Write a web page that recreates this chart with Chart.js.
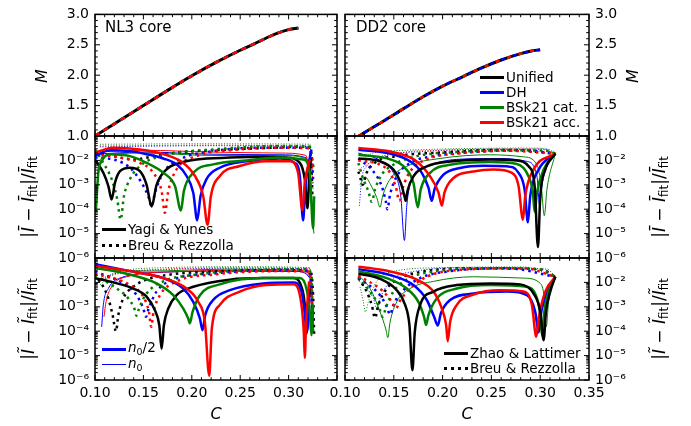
<!DOCTYPE html>
<html>
<head>
<meta charset="utf-8">
<script src="https://cdn.jsdelivr.net/npm/chart.js@4.4.1/dist/chart.umd.min.js"></script>
<style>
  body { margin: 0; background: #fff; font-family: 'DejaVu Sans', sans-serif; }
  #fig { position: relative; width: 691px; height: 426px; overflow: hidden; }
  #fig canvas { position: absolute; left: 0; top: 0; }
  .txt { position: absolute; white-space: nowrap; color: #000; line-height: 1; }
  .rot { transform: translate(-50%, -50%) rotate(-90deg); }
  .ctr { transform: translate(-50%, -50%); }
  .lbl { font-size: 16px; }
  .big { font-size: 17px; }
  .lbl sub, .leg sub { font-size: 70%; vertical-align: -0.3em; font-style: normal; }
  .core { font-size: 15px; transform: translateY(-50%); }
  .leg { font-size: 13.5px; transform: translateY(-50%); }
  .smp { position: absolute; }
</style>
</head>
<body>
<div id="fig">
  <canvas id="tl" width="691" height="426"></canvas>
  <canvas id="tr" width="691" height="426"></canvas>
  <canvas id="ml" width="691" height="426"></canvas>
  <canvas id="mr" width="691" height="426"></canvas>
  <canvas id="bl" width="691" height="426"></canvas>
  <canvas id="br" width="691" height="426"></canvas>

  <div class="txt lbl rot" style="left:42px;top:76px"><i>M</i></div>
  <div class="txt lbl rot" style="left:633px;top:76px"><i>M</i></div>
  <div class="txt lbl big rot" style="left:30px;top:197px">|<i>I&#772;</i> − <i>I&#772;</i><sub>fit</sub>|/<i>I&#772;</i><sub>fit</sub></div>
  <div class="txt lbl big rot" style="left:661px;top:197px">|<i>I&#772;</i> − <i>I&#772;</i><sub>fit</sub>|/<i>I&#772;</i><sub>fit</sub></div>
  <div class="txt lbl big rot" style="left:30px;top:319px">|<i>I&#771;</i> − <i>I&#771;</i><sub>fit</sub>|/<i>I&#771;</i><sub>fit</sub></div>
  <div class="txt lbl big rot" style="left:661px;top:319px">|<i>I&#771;</i> − <i>I&#771;</i><sub>fit</sub>|/<i>I&#771;</i><sub>fit</sub></div>
  <div class="txt lbl ctr" style="left:216px;top:414px"><i>C</i></div>
  <div class="txt lbl ctr" style="left:467px;top:414px"><i>C</i></div>

  <div class="txt core" style="left:105px;top:27px">NL3 core</div>
  <div class="txt core" style="left:356px;top:27px">DD2 core</div>

  <!-- EOS legend, top right -->
  <div class="smp" style="left:480px;top:76px;width:24px;height:3px;background:#000"></div>
  <div class="txt leg" style="left:506px;top:78px">Unified</div>
  <div class="smp" style="left:480px;top:91px;width:24px;height:3px;background:#0000ff"></div>
  <div class="txt leg" style="left:506px;top:93px">DH</div>
  <div class="smp" style="left:480px;top:106px;width:24px;height:3px;background:#008000"></div>
  <div class="txt leg" style="left:506px;top:108px">BSk21 cat.</div>
  <div class="smp" style="left:480px;top:121px;width:24px;height:3px;background:#ff0000"></div>
  <div class="txt leg" style="left:506px;top:123px">BSk21 acc.</div>

  <!-- fit legend, middle left -->
  <div class="smp" style="left:102px;top:228px;width:24px;height:3px;background:#000"></div>
  <div class="txt leg" style="left:128px;top:230px">Yagi &amp; Yunes</div>
  <div class="smp" style="left:102px;top:244px;width:24px;height:3px;background:repeating-linear-gradient(90deg,#000 0 3px,transparent 3px 7px)"></div>
  <div class="txt leg" style="left:128px;top:246px">Breu &amp; Rezzolla</div>

  <!-- crust density legend, bottom left -->
  <div class="smp" style="left:102px;top:348px;width:24px;height:3px;background:#0000ff"></div>
  <div class="txt leg" style="left:128px;top:349px"><i>n</i><sub>0</sub>/2</div>
  <div class="smp" style="left:102px;top:364px;width:24px;height:1px;background:#0000ff"></div>
  <div class="txt leg" style="left:128px;top:365px"><i>n</i><sub>0</sub></div>

  <!-- fit legend, bottom right -->
  <div class="smp" style="left:444px;top:352px;width:24px;height:3px;background:#000"></div>
  <div class="txt leg" style="left:470px;top:354px">Zhao &amp; Lattimer</div>
  <div class="smp" style="left:444px;top:367px;width:24px;height:3px;background:repeating-linear-gradient(90deg,#000 0 3px,transparent 3px 7px)"></div>
  <div class="txt leg" style="left:470px;top:369px">Breu &amp; Rezzolla</div>
</div>

<script>
// ---- mass-compactness curves ----
const nl3C = [0.100, 0.125, 0.150, 0.175, 0.200, 0.225, 0.250, 0.265, 0.278, 0.290, 0.300, 0.310];
const nl3M = [1.00, 1.25, 1.50, 1.75, 1.99, 2.21, 2.41, 2.52, 2.62, 2.70, 2.75, 2.775];
const dd2C = [0.114, 0.140, 0.160, 0.180, 0.200, 0.220, 0.240, 0.260, 0.280, 0.290, 0.300];
const dd2M = [1.00, 1.25, 1.45, 1.645, 1.82, 1.97, 2.12, 2.25, 2.355, 2.395, 2.42];

// ---- NL3, |I_bar - fit| / fit : [C, error] ----
const nl3BarUniSolid = [[0.100,1.1e-2],[0.1086,3.1e-3],[0.1138,8.9e-4],[0.1172,2.5e-4],[0.1206,1.2e-3],[0.1258,3.6e-3],[0.1361,5.0e-3],[0.1464,3.6e-3],[0.1533,1.0e-3],[0.1585,1.3e-4],[0.1636,1.0e-3],[0.174,4.3e-3],[0.1877,7.9e-3],[0.205,1.1e-2],[0.2393,1.3e-2],[0.2737,1.4e-2],[0.2978,1.3e-2],[0.3116,7.9e-3],[0.3167,1.7e-3],[0.3195,1.1e-4],[0.3212,1.7e-3],[0.323,1.2e-2]];
const nl3BarDhSolid = [[0.100,1.5e-2],[0.1155,2.6e-2],[0.136,2.4e-2],[0.1533,1.8e-2],[0.1705,1.2e-2],[0.1843,6.9e-3],[0.1946,2.3e-3],[0.2015,4.7e-4],[0.2056,3.5e-5],[0.209,3.4e-4],[0.2152,1.7e-3],[0.229,5.0e-3],[0.2565,9.3e-3],[0.2909,1.2e-2],[0.3064,7.9e-3],[0.3116,2.3e-3],[0.315,3.5e-5],[0.3171,6.5e-4],[0.3191,3.1e-3],[0.3236,2.8e-2]];
const nl3BarCatSolid = [[0.101,9.8e-5],[0.1034,3.1e-3],[0.1069,9.3e-3],[0.1155,1.8e-2],[0.1361,1.5e-2],[0.1533,7.9e-3],[0.1705,3.1e-3],[0.1826,8.9e-4],[0.1888,8.9e-5],[0.1918,5.5e-4],[0.2015,3.1e-3],[0.2221,6.9e-3],[0.2565,1.0e-2],[0.2909,1.3e-2],[0.315,1.1e-2],[0.3219,3.1e-3],[0.3253,1.6e-5],[0.3264,3.4e-4]];
const nl3BarAccSolid = [[0.100,2.1e-2],[0.1189,3.3e-2],[0.1464,2.8e-2],[0.1705,1.8e-2],[0.1912,7.9e-3],[0.2032,2.3e-3],[0.2118,3.4e-4],[0.2163,2.3e-5],[0.2197,3.4e-4],[0.229,2.3e-3],[0.2496,5.9e-3],[0.2772,9.3e-3],[0.3012,9.3e-3],[0.3098,3.1e-3],[0.3143,9.1e-5],[0.3167,1.2e-3],[0.3219,1.1e-2]];
const nl3BarUniDot = [[0.100,2.1e-2],[0.1189,1.5e-2],[0.1396,1.1e-2],[0.1705,1.8e-2],[0.2049,2.4e-2],[0.2565,3.0e-2],[0.3184,3.6e-2],[0.3225,2.8e-2],[0.3246,3.4e-4]];
const nl3BarDhDot = [[0.100,1.3e-2],[0.1189,1.1e-2],[0.1361,5.0e-3],[0.1482,1.2e-3],[0.155,3.4e-4],[0.1585,1.3e-4],[0.1619,4.7e-4],[0.1705,3.1e-3],[0.1877,1.1e-2],[0.2221,2.4e-2],[0.2737,3.3e-2],[0.3184,3.3e-2],[0.3236,1.8e-2],[0.3253,1.7e-3]];
const nl3BarCatDot = [[0.100,2.8e-2],[0.1086,7.9e-3],[0.1172,1.7e-3],[0.123,2.5e-4],[0.1265,3.8e-5],[0.1299,3.4e-4],[0.1361,1.7e-3],[0.1464,5.9e-3],[0.1705,1.6e-2],[0.2221,2.8e-2],[0.2909,3.9e-2],[0.3219,3.6e-2],[0.326,4.3e-3]];
const nl3BarAccDot = [[0.100,1.8e-2],[0.1258,1.3e-2],[0.1464,7.9e-3],[0.1602,3.1e-3],[0.1688,5.5e-4],[0.1722,7.1e-5],[0.1757,5.5e-4],[0.1843,4.3e-3],[0.2049,1.5e-2],[0.2393,2.6e-2],[0.2909,3.3e-2],[0.3219,3.1e-2],[0.3253,4.3e-3]];
const nl3BarDhSolidN0 = [[0.100,1.8e-2],[0.150,2.2e-2],[0.220,1.8e-2],[0.290,1.7e-2],[0.318,1.3e-2],[0.3235,2.0e-4]];
const nl3BarCatSolidN0 = [[0.101,1.0e-4],[0.104,5.0e-3],[0.110,1.6e-2],[0.150,2.0e-2],[0.220,1.6e-2],[0.290,1.6e-2],[0.318,1.2e-2],[0.3262,1.0e-5]];
const nl3BarAccSolidN0 = [[0.100,2.2e-2],[0.150,2.6e-2],[0.220,2.2e-2],[0.290,2.0e-2],[0.318,1.6e-2],[0.3245,1.0e-4]];
const nl3BarDhDotN0 = [[0.105,3.6e-2],[0.2221,4.0e-2],[0.3219,3.7e-2],[0.3253,1.0e-3]];
const nl3BarCatDotN0 = [[0.105,4.6e-2],[0.2221,4.8e-2],[0.3219,4.6e-2],[0.3253,6.5e-4]];
const nl3BarAccDotN0 = [[0.105,3.9e-2],[0.2221,4.2e-2],[0.3219,3.9e-2],[0.3253,1.2e-3]];

// ---- DD2, |I_bar - fit| / fit ----
const dd2BarUniSolid = [[0.1137,1.2e-2],[0.1359,9.1e-3],[0.1496,4.2e-3],[0.1571,1.2e-3],[0.1609,3.5e-4],[0.1622,2.2e-4],[0.164,5.5e-4],[0.1701,2.2e-3],[0.1838,5.7e-3],[0.2077,9.1e-3],[0.2488,1.1e-2],[0.2761,1.0e-2],[0.2881,5.7e-3],[0.2943,8.9e-4],[0.2977,2.8e-6],[0.3001,3.5e-4],[0.3052,4.2e-3],[0.3155,1.9e-2]];
const dd2BarDhSolid = [[0.1137,2.7e-2],[0.1462,1.9e-2],[0.1667,9.1e-3],[0.1787,3.1e-3],[0.1855,7.6e-4],[0.1889,2.2e-4],[0.1917,6.5e-4],[0.2009,2.6e-3],[0.218,4.9e-3],[0.2419,6.0e-3],[0.2659,5.7e-3],[0.2778,3.1e-3],[0.284,6.5e-4],[0.2874,2.9e-5],[0.2898,3.5e-4],[0.2984,4.2e-3],[0.3155,1.9e-2]];
const dd2BarCatSolid = [[0.1137,1.7e-2],[0.1462,1.1e-2],[0.1616,4.9e-3],[0.1701,1.2e-3],[0.1746,1.2e-4],[0.1776,6.5e-4],[0.1872,3.1e-3],[0.2077,6.6e-3],[0.2488,8.5e-3],[0.2761,7.1e-3],[0.2881,2.2e-3],[0.2925,4.8e-4],[0.2943,7.8e-5],[0.2967,4.8e-4],[0.3035,4.2e-3],[0.3155,1.9e-2]];
const dd2BarAccSolid = [[0.1137,3.2e-2],[0.1462,2.3e-2],[0.1735,9.1e-3],[0.1872,2.2e-3],[0.1958,4.8e-4],[0.1992,1.4e-4],[0.2019,4.8e-4],[0.2112,1.9e-3],[0.2317,3.5e-3],[0.2522,4.2e-3],[0.271,3.1e-3],[0.2778,8.9e-4],[0.2823,3.7e-5],[0.2847,3.5e-4],[0.2932,4.2e-3],[0.3155,1.9e-2]];
const dd2BarUniDot = [[0.1137,3.5e-3],[0.1161,1.7e-3],[0.1181,1.0e-3],[0.1222,3.1e-3],[0.1325,9.1e-3],[0.153,1.5e-2],[0.1975,2.1e-2],[0.2659,2.7e-2],[0.3155,1.9e-2]];
const dd2BarDhDot = [[0.1137,1.2e-2],[0.1291,3.5e-3],[0.1376,8.9e-4],[0.1417,2.2e-4],[0.1434,1.0e-4],[0.1462,4.1e-4],[0.153,2.2e-3],[0.1667,7.8e-3],[0.1906,1.5e-2],[0.2317,2.2e-2],[0.283,2.6e-2],[0.3155,1.9e-2]];
const dd2BarCatDot = [[0.1137,7.8e-3],[0.1188,1.7e-3],[0.1239,5.5e-4],[0.1274,2.0e-4],[0.1308,6.5e-4],[0.1376,2.6e-3],[0.1496,6.6e-3],[0.1735,1.5e-2],[0.2146,2.2e-2],[0.2659,2.6e-2],[0.3069,2.5e-2],[0.3155,1.9e-2]];
const dd2BarAccDot = [[0.1137,1.0e-2],[0.1359,6.6e-3],[0.1462,3.1e-3],[0.1523,7.6e-4],[0.1557,2.2e-4],[0.1592,7.6e-4],[0.1667,3.5e-3],[0.1838,1.1e-2],[0.2146,1.9e-2],[0.2659,2.5e-2],[0.3155,1.9e-2]];
const dd2BarDhSolidN0 = [[0.1137,2.0e-2],[0.1359,1.0e-2],[0.1496,3.1e-3],[0.1571,3.5e-4],[0.1609,5.2e-6],[0.1633,1.4e-4],[0.1684,1.7e-3],[0.1838,5.7e-3],[0.2146,1.1e-2],[0.259,1.2e-2],[0.2864,9.1e-3],[0.2967,2.2e-3],[0.2994,1.4e-4],[0.3022,1.2e-3],[0.3155,1.9e-2]];
const dd2BarCatSolidN0 = [[0.1154,1.0e-3],[0.1205,2.1e-3],[0.1263,1.0e-3],[0.1325,3.0e-4],[0.1359,1.2e-4],[0.1386,3.5e-4],[0.1462,1.7e-3],[0.1633,5.7e-3],[0.1975,1.2e-2],[0.2488,1.7e-2],[0.283,1.4e-2],[0.2967,6.6e-3],[0.3011,8.9e-4],[0.3042,5.4e-5],[0.3069,6.5e-4],[0.3155,1.9e-2]];
const dd2BarDhDotN0 = [[0.1147,1.4e-4],[0.1171,1.7e-3],[0.1222,5.7e-3],[0.1359,1.4e-2],[0.1804,2.3e-2],[0.2488,2.9e-2],[0.3069,2.9e-2],[0.3155,1.9e-2]];
const dd2BarCatDotN0 = [[0.1137,9.1e-3],[0.1291,2.0e-2],[0.1633,2.6e-2],[0.2317,3.1e-2],[0.3001,3.2e-2],[0.3155,1.9e-2]];
const dd2BarAccDotN0 = [[0.1137,4.2e-3],[0.1257,7.8e-3],[0.1462,1.7e-2],[0.1975,2.6e-2],[0.3001,2.9e-2],[0.3155,1.9e-2]];

// ---- NL3, |I_tilde - fit| / fit ----
const nl3TldUniSolid = [[0.100,1.5e-2],[0.1189,1.0e-2],[0.1396,5.6e-3],[0.1533,2.6e-3],[0.1619,7.2e-4],[0.1664,1.8e-4],[0.1688,1.9e-5],[0.1712,1.8e-4],[0.1757,8.5e-4],[0.1843,3.0e-3],[0.2015,6.6e-3],[0.2393,1.3e-2],[0.2737,1.5e-2],[0.3047,1.5e-2],[0.3133,6.6e-3],[0.3167,1.2e-3],[0.3184,8.0e-5],[0.3202,1.2e-3],[0.3219,5.6e-3]];
const nl3TldDhSolid = [[0.100,5.5e-2],[0.1361,2.9e-2],[0.1705,1.5e-2],[0.1912,5.6e-3],[0.2015,1.6e-3],[0.2084,3.3e-4],[0.2111,1.1e-4],[0.2139,4.6e-4],[0.2221,1.9e-3],[0.2393,4.8e-3],[0.2737,9.1e-3],[0.3047,1.0e-2],[0.3133,4.2e-3],[0.3178,2.4e-4],[0.3191,9.3e-5],[0.3212,3.0e-3]];
const nl3TldCatSolid = [[0.100,4.0e-2],[0.1361,2.1e-2],[0.1636,9.1e-3],[0.1808,3.0e-3],[0.1912,8.5e-4],[0.1963,3.3e-4],[0.198,2.1e-4],[0.2008,6.2e-4],[0.2084,3.0e-3],[0.229,8.3e-3],[0.2737,1.5e-2],[0.3116,1.5e-2],[0.3184,5.6e-3],[0.3219,6.2e-4],[0.3236,6.9e-5],[0.3253,1.2e-3]];
const nl3TldAccSolid = [[0.100,4.8e-2],[0.1361,2.9e-2],[0.1705,1.5e-2],[0.1946,5.6e-3],[0.2066,1.6e-3],[0.2135,2.4e-4],[0.218,1.5e-6],[0.2207,1.3e-4],[0.229,1.2e-3],[0.2496,4.2e-3],[0.2772,7.8e-3],[0.3047,8.3e-3],[0.3123,2.2e-3],[0.3157,9.3e-5],[0.3167,7.9e-6],[0.3181,2.4e-4],[0.3212,1.1e-2]];
const nl3TldUniDot = [[0.1034,1.3e-2],[0.1086,6.6e-3],[0.1138,2.2e-3],[0.1182,4.6e-4],[0.1217,1.0e-4],[0.1241,4.6e-4],[0.1292,2.2e-3],[0.1396,6.6e-3],[0.1533,1.3e-2],[0.174,2.0e-2],[0.2221,2.8e-2],[0.2909,3.2e-2],[0.3219,2.9e-2],[0.3253,3.0e-3],[0.3264,6.9e-5]];
const nl3TldDhDot = [[0.100,2.8e-2],[0.1292,9.1e-3],[0.143,3.0e-3],[0.1499,8.5e-4],[0.1526,3.9e-4],[0.1554,8.5e-4],[0.1636,4.2e-3],[0.1808,1.3e-2],[0.2221,2.3e-2],[0.2909,3.2e-2],[0.3219,2.9e-2],[0.3246,4.6e-4]];
const nl3TldCatDot = [[0.100,2.0e-2],[0.1224,5.6e-3],[0.1344,2.2e-3],[0.1406,8.5e-4],[0.143,4.3e-4],[0.1454,8.5e-4],[0.1533,3.5e-3],[0.1705,1.1e-2],[0.2049,2.1e-2],[0.2565,3.2e-2],[0.3184,3.5e-2],[0.3236,2.0e-2],[0.3253,6.9e-5]];
const nl3TldAccDot = [[0.100,2.3e-2],[0.1361,7.8e-3],[0.1499,2.6e-3],[0.1557,6.2e-4],[0.1581,1.5e-4],[0.1605,6.2e-4],[0.1671,3.0e-3],[0.1843,1.1e-2],[0.2221,2.1e-2],[0.2909,2.9e-2],[0.3219,2.8e-2],[0.3246,2.4e-4]];
const nl3TldDhSolidN0 = [[0.1069,1.5e-4],[0.1086,1.2e-3],[0.1138,5.6e-3],[0.1258,1.5e-2],[0.1705,2.6e-2],[0.2393,2.9e-2],[0.3081,2.8e-2],[0.3219,1.5e-2],[0.3246,9.3e-5]];
const nl3TldCatSolidN0 = [[0.100,3.5e-2],[0.1533,2.9e-2],[0.2393,3.5e-2],[0.315,3.2e-2],[0.3236,1.1e-2],[0.326,9.3e-5]];
const nl3TldAccSolidN0 = [[0.1093,3.9e-4],[0.1114,1.6e-3],[0.1172,6.6e-3],[0.1327,1.7e-2],[0.1877,2.8e-2],[0.2565,3.1e-2],[0.3116,2.9e-2],[0.3225,1.5e-2],[0.3253,9.3e-5]];
const nl3TldDhDotN0 = [[0.1052,1.3e-2],[0.1189,2.2e-2],[0.1705,3.3e-2],[0.2565,3.8e-2],[0.3219,3.6e-2],[0.3253,4.0e-4]];
const nl3TldCatDotN0 = [[0.1052,7.8e-3],[0.1189,2.3e-2],[0.1705,4.0e-2],[0.2565,4.4e-2],[0.3219,4.0e-2],[0.3253,1.2e-3]];
const nl3TldAccDotN0 = [[0.1052,1.1e-2],[0.1189,2.0e-2],[0.1705,3.5e-2],[0.2565,4.0e-2],[0.3219,3.8e-2],[0.3253,6.2e-4]];

// ---- DD2, |I_tilde - fit| / fit ----
const dd2TldUniSolid = [[0.1137,2.3e-2],[0.1359,1.4e-2],[0.153,4.8e-3],[0.1616,1.2e-3],[0.166,1.8e-4],[0.1691,2.5e-6],[0.1715,9.3e-5],[0.177,1.2e-3],[0.1906,4.2e-3],[0.2146,7.8e-3],[0.2488,9.1e-3],[0.2796,8.3e-3],[0.2932,3.5e-3],[0.3001,6.2e-4],[0.3035,4.3e-5],[0.3059,6.2e-4],[0.3103,4.2e-3],[0.3155,1.7e-2]];
const dd2TldDhSolid = [[0.1137,3.5e-2],[0.1462,2.0e-2],[0.1701,7.8e-3],[0.1838,1.9e-3],[0.1913,3.9e-4],[0.1951,1.7e-4],[0.1982,5.4e-4],[0.2077,1.9e-3],[0.2317,3.5e-3],[0.2659,4.2e-3],[0.2864,3.0e-3],[0.2949,6.2e-4],[0.2984,8.9e-5],[0.3011,6.2e-4],[0.3069,4.2e-3],[0.3155,1.7e-2]];
const dd2TldCatSolid = [[0.1137,2.9e-2],[0.1428,1.5e-2],[0.1633,5.6e-3],[0.1752,1.6e-3],[0.181,3.9e-4],[0.1831,1.8e-4],[0.1855,4.6e-4],[0.194,2.2e-3],[0.2146,5.6e-3],[0.2488,7.8e-3],[0.2864,6.6e-3],[0.2967,2.2e-3],[0.3001,4.6e-4],[0.3018,6.9e-5],[0.3042,6.2e-4],[0.3086,4.2e-3],[0.3155,1.7e-2]];
const dd2TldAccSolid = [[0.1137,4.4e-2],[0.1462,2.8e-2],[0.1735,1.3e-2],[0.1906,4.2e-3],[0.1992,8.5e-4],[0.2036,1.8e-4],[0.2053,3.9e-5],[0.2077,2.4e-4],[0.2146,1.2e-3],[0.2317,3.2e-3],[0.259,4.8e-3],[0.283,4.2e-3],[0.2915,1.2e-3],[0.296,5.9e-5],[0.2984,3.3e-4],[0.3052,4.2e-3],[0.3155,1.7e-2]];
const dd2TldUniDot = [[0.1137,1.5e-2],[0.1222,4.2e-3],[0.1274,1.2e-3],[0.1308,3.5e-4],[0.1342,1.2e-3],[0.1428,5.6e-3],[0.1564,1.5e-2],[0.1804,2.8e-2],[0.2317,3.8e-2],[0.3001,3.4e-2],[0.3155,1.7e-2]];
const dd2TldDhDot = [[0.1137,1.5e-2],[0.1359,3.0e-3],[0.1428,1.0e-3],[0.1462,4.8e-4],[0.1496,1.2e-3],[0.1599,4.8e-3],[0.177,1.5e-2],[0.2077,2.9e-2],[0.2659,3.8e-2],[0.3155,1.7e-2]];
const dd2TldCatDot = [[0.1137,1.7e-2],[0.1257,4.2e-3],[0.1342,1.2e-3],[0.1386,3.9e-4],[0.1421,1.0e-3],[0.1496,4.2e-3],[0.1633,1.3e-2],[0.1906,2.8e-2],[0.2488,3.8e-2],[0.3001,3.5e-2],[0.3155,1.7e-2]];
const dd2TldAccDot = [[0.1137,1.9e-2],[0.1393,4.2e-3],[0.1479,1.6e-3],[0.1523,8.5e-4],[0.1557,1.6e-3],[0.1667,5.6e-3],[0.1838,1.7e-2],[0.2146,3.2e-2],[0.283,3.8e-2],[0.3155,1.7e-2]];
const dd2TldCatSolidN0 = [[0.1137,2.0e-2],[0.1257,5.6e-3],[0.1359,6.2e-4],[0.1421,1.1e-4],[0.1438,5.4e-5],[0.1462,2.4e-4],[0.153,1.6e-3],[0.1667,5.6e-3],[0.1906,1.1e-2],[0.2317,1.7e-2],[0.283,1.5e-2],[0.3001,9.1e-3],[0.3042,2.2e-3],[0.3062,1.5e-4],[0.3086,1.6e-3],[0.3155,1.7e-2]];
const dd2TldDhDotN0 = [[0.1147,1.1e-2],[0.1291,2.2e-3],[0.1325,8.5e-4],[0.1359,2.2e-3],[0.1462,1.1e-2],[0.1701,2.8e-2],[0.2317,4.0e-2],[0.3069,3.5e-2],[0.3155,1.7e-2]];
const dd2TldCatDotN0 = [[0.1154,6.6e-3],[0.1188,1.6e-3],[0.1209,6.2e-4],[0.1239,1.6e-3],[0.1325,1.1e-2],[0.1496,2.8e-2],[0.1975,4.0e-2],[0.283,4.3e-2],[0.3155,1.7e-2]];

// ---- axis ticks ----
const cTicks = [0.10, 0.15, 0.20, 0.25, 0.30, 0.35];
const cLabels = ['0.10', '0.15', '0.20', '0.25', '0.30', '0.35'];
const cLabelsLeft = ['0.10', '0.15', '0.20', '0.25', '0.30', ''];
const mTicks = [1.0, 1.5, 2.0, 2.5, 3.0];
const mLabels = ['1.0', '1.5', '2.0', '2.5', '3.0'];
const errTicks = [1e-6, 1e-5, 1e-4, 1e-3, 1e-2];
const errLabels = ['10⁻⁶', '10⁻⁵', '10⁻⁴', '10⁻³', '10⁻²'];

const BLACK = '#000000', BLUE = '#0000ff', GREEN = '#008000', RED = '#ff0000';
const W = 691, H = 426, YW = 60, XH = 22;
const FONT = { family: 'DejaVu Sans', size: 14 };

// minor tick positions
const cMinor = [];
for (let k = 10; k <= 35; k++) if (k % 5) cMinor.push(k / 100);
const mMinor = [];
for (let k = 10; k <= 30; k++) if (k % 5) mMinor.push(k / 10);
const errMinor = [];
for (let e = -6; e < -1; e++) for (let m = 2; m <= 9; m++) errMinor.push(m * Math.pow(10, e));

// frame + inward ticks on all four sides
const frameTicks = {
  id: 'frameTicks',
  afterDatasetsDraw(chart, args, o) {
    const { ctx, chartArea: a } = chart;
    const sx = chart.scales.x, sy = chart.scales.y;
    ctx.save();
    ctx.strokeStyle = '#000';
    ctx.lineWidth = 1;
    ctx.beginPath();
    const tx = (vals, len) => vals.forEach(v => {
      const p = sx.getPixelForValue(v);
      ctx.moveTo(p, a.bottom); ctx.lineTo(p, a.bottom - len);
      ctx.moveTo(p, a.top); ctx.lineTo(p, a.top + len);
    });
    const ty = (vals, len) => vals.forEach(v => {
      const p = sy.getPixelForValue(v);
      if (p < a.top || p > a.bottom) return;
      ctx.moveTo(a.left, p); ctx.lineTo(a.left + len, p);
      ctx.moveTo(a.right, p); ctx.lineTo(a.right - len, p);
    });
    tx(cTicks, 5); tx(cMinor, 2.8);
    ty(o.yMajor, 5); ty(o.yMinor, 2.8);
    ctx.stroke();
    ctx.lineWidth = 1.5;
    ctx.strokeRect(a.left, a.top, a.right - a.left, a.bottom - a.top);
    ctx.restore();
  }
};

function line(pts, color, width, dash, offset) {
  return {
    data: pts.map(p => ({ x: p[0], y: p[1] })),
    borderColor: color,
    borderWidth: width,
    borderDash: dash || [],
    borderDashOffset: offset || 0,
    borderCapStyle: 'butt',
    pointRadius: 0,
    fill: false,
    cubicInterpolationMode: 'monotone'
  };
}
const thick = (p, c) => line(p, c, 2.5);
const thickDot = (p, c) => line(p, c, 2.5, [2.5, 4]);
const thin = (p, c) => line(p, c, 1);
const thinDot = (p, c) => line(p, c, 1, [1, 1.7]);
const xy = (xs, ys) => xs.map((x, i) => [x, ys[i]]);

function panel(id, box, side, logY, showX, xLabels, datasets) {
  // later datasets on top
  datasets.forEach((d, i) => { d.order = -i; });
  const pad = {
    top: box.t,
    bottom: showX ? H - box.b - XH : H - box.b,
    left: side === 'left' ? box.l - YW : box.l,
    right: side === 'left' ? W - box.r : W - box.r - YW
  };
  const yt = logY ? errTicks : mTicks;
  const yl = logY ? errLabels : mLabels;
  new Chart(document.getElementById(id), {
    type: 'line',
    data: { datasets },
    options: {
      responsive: false,
      animation: false,
      devicePixelRatio: 1,
      events: [],
      layout: { padding: pad },
      plugins: {
        legend: { display: false },
        tooltip: { enabled: false },
        frameTicks: { yMajor: yt, yMinor: logY ? errMinor : mMinor }
      },
      scales: {
        x: {
          type: 'linear', min: 0.1, max: 0.35,
          grid: { display: false, drawTicks: false },
          border: { display: false },
          afterBuildTicks: s => { s.ticks = cTicks.map(v => ({ value: v })); },
          afterFit: s => { s.height = showX ? XH : 0; },
          ticks: {
            display: showX, autoSkip: false, maxRotation: 0, minRotation: 0,
            padding: 5, color: '#000', font: FONT,
            callback: (v, i) => xLabels[i]
          }
        },
        y: {
          type: logY ? 'logarithmic' : 'linear',
          position: side,
          min: logY ? 1e-6 : 1.0, max: logY ? 1e-1 : 3.0,
          grid: { display: false, drawTicks: false },
          border: { display: false },
          afterBuildTicks: s => { s.ticks = yt.map(v => ({ value: v })); },
          afterFit: s => { s.width = YW; },
          ticks: {
            autoSkip: false, padding: 6, color: '#000', font: FONT,
            callback: (v, i) => yl[i]
          }
        }
      }
    },
    plugins: [frameTicks]
  });
}

const BOX = {
  tl: { l: 95, r: 337, t: 14, b: 136 }, tr: { l: 345, r: 589, t: 14, b: 136 },
  ml: { l: 95, r: 337, t: 136, b: 258 }, mr: { l: 345, r: 589, t: 136, b: 258 },
  bl: { l: 95, r: 337, t: 258, b: 380 }, br: { l: 345, r: 589, t: 258, b: 380 }
};

const nl3 = xy(nl3C, nl3M), dd2 = xy(dd2C, dd2M);
panel('tl', BOX.tl, 'left', false, false, cLabelsLeft, [
  line(nl3, BLACK, 3),
  line(nl3, BLUE, 2.5, [5, 5]),
  line(nl3, GREEN, 2.5, [5, 5]),
  line(nl3, RED, 2.5, [5, 5])
]);
panel('tr', BOX.tr, 'right', false, false, cLabels, [
  line(dd2, BLACK, 3),
  line(dd2, GREEN, 2.5, [4, 8]),
  line(dd2, BLUE, 2.5, [4, 8], 6),
  line(dd2, RED, 2.5, [4, 8])
]);

panel('ml', BOX.ml, 'left', true, false, cLabelsLeft, [
  thinDot(nl3BarDhDotN0, BLUE), thinDot(nl3BarAccDotN0, RED), thinDot(nl3BarCatDotN0, GREEN),
  thin(nl3BarDhSolidN0, BLUE), thin(nl3BarCatSolidN0, GREEN), thin(nl3BarAccSolidN0, RED),
  thickDot(nl3BarUniDot, BLACK), thickDot(nl3BarDhDot, BLUE), thickDot(nl3BarCatDot, GREEN), thickDot(nl3BarAccDot, RED),
  thick(nl3BarUniSolid, BLACK), thick(nl3BarDhSolid, BLUE), thick(nl3BarCatSolid, GREEN), thick(nl3BarAccSolid, RED)
]);
panel('mr', BOX.mr, 'right', true, false, cLabels, [
  thinDot(dd2BarDhDotN0, BLUE), thinDot(dd2BarAccDotN0, RED), thinDot(dd2BarCatDotN0, GREEN),
  thin(dd2BarDhSolidN0, BLUE), thin(dd2BarCatSolidN0, GREEN),
  thickDot(dd2BarUniDot, BLACK), thickDot(dd2BarDhDot, BLUE), thickDot(dd2BarCatDot, GREEN), thickDot(dd2BarAccDot, RED),
  thick(dd2BarDhSolid, BLUE), thick(dd2BarCatSolid, GREEN), thick(dd2BarAccSolid, RED), thick(dd2BarUniSolid, BLACK)
]);
panel('bl', BOX.bl, 'left', true, true, cLabelsLeft, [
  thinDot(nl3TldDhDotN0, BLUE), thinDot(nl3TldAccDotN0, RED), thinDot(nl3TldCatDotN0, GREEN),
  thin(nl3TldDhSolidN0, BLUE), thin(nl3TldCatSolidN0, GREEN), thin(nl3TldAccSolidN0, RED),
  thickDot(nl3TldUniDot, BLACK), thickDot(nl3TldDhDot, BLUE), thickDot(nl3TldCatDot, GREEN), thickDot(nl3TldAccDot, RED),
  thick(nl3TldUniSolid, BLACK), thick(nl3TldDhSolid, BLUE), thick(nl3TldCatSolid, GREEN), thick(nl3TldAccSolid, RED)
]);
panel('br', BOX.br, 'right', true, true, cLabels, [
  thinDot(dd2TldDhDotN0, BLUE), thinDot(dd2TldCatDotN0, GREEN),
  thin(dd2TldCatSolidN0, GREEN),
  thickDot(dd2TldUniDot, BLACK), thickDot(dd2TldDhDot, BLUE), thickDot(dd2TldCatDot, GREEN), thickDot(dd2TldAccDot, RED),
  thick(dd2TldDhSolid, BLUE), thick(dd2TldCatSolid, GREEN), thick(dd2TldAccSolid, RED), thick(dd2TldUniSolid, BLACK)
]);
</script>
</body>
</html>
